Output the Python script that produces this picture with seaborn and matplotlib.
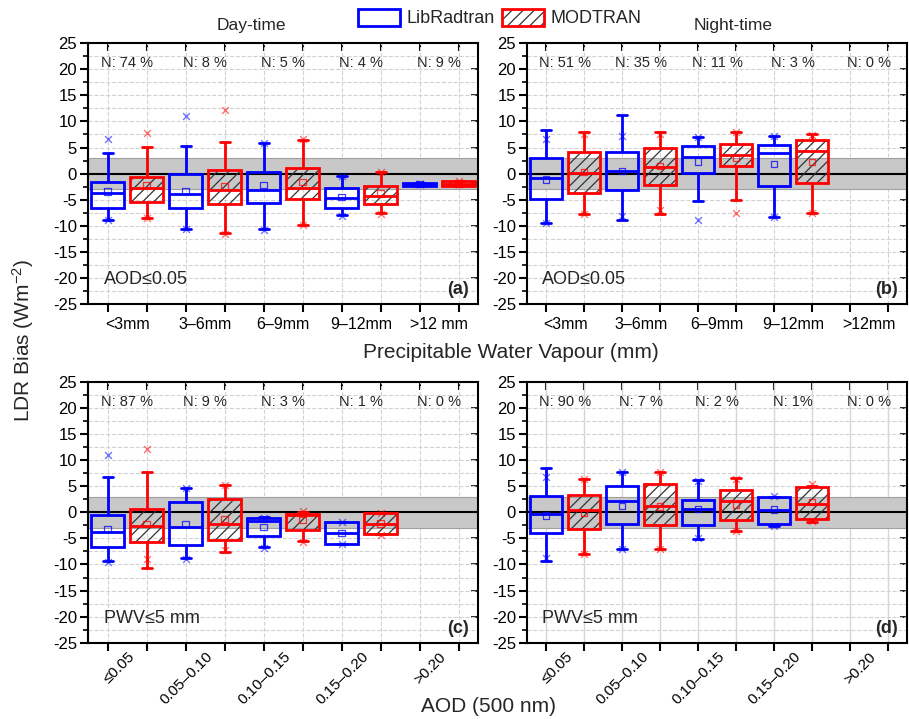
import matplotlib
matplotlib.use('Agg')
import matplotlib.pyplot as plt
import matplotlib.transforms as mtransforms
from matplotlib.patches import Patch, PathPatch
from matplotlib.legend_handler import HandlerTuple
from matplotlib.ticker import NullLocator
import numpy as np
import pandas as pd
import seaborn as sns

# class labels
pwv_day = ['<3mm', '3\u20136mm', '6\u20139mm', '9\u201312mm', '>12 mm']
pwv_night = ['<3mm', '3\u20136mm', '6\u20139mm', '9\u201312mm', '>12mm']
aod_cls = ['\u22640.05', '0.05\u20130.10', '0.10\u20130.15', '0.15\u20130.20', '>0.20']

n_a = ['N: 74 %', 'N: 8 %', 'N: 5 %', 'N: 4 %', 'N: 9 %']
n_b = ['N: 51 %', 'N: 35 %', 'N: 11 %', 'N: 3 %', 'N: 0 %']
n_c = ['N: 87 %', 'N: 9 %', 'N: 3 %', 'N: 1 %', 'N: 0 %']
n_d = ['N: 90 %', 'N: 7 %', 'N: 2 %', 'N: 1%', 'N: 0 %']

# box = [low whisker, q1, median, q3, high whisker], ext = [min, max]
lib_box_a = [[-8.8, -6.6, -3.8, -1.6, 4.0], [-10.6, -6.6, -3.9, 0.0, 5.2], [-10.7, -5.6, -3.2, 0.4, 5.8],
             [-8.0, -6.6, -4.7, -2.7, -0.4], [-2.4, -2.3, -2.0, -1.8, -1.7]]
lib_mean_a = [-3.4, -3.3, -2.2, -4.5, -2.0]
lib_ext_a = [[-8.9, 6.7], [-10.7, 11.0], [-10.8, 5.8], [-8.2, -0.4], [-2.0, -1.9]]
mod_box_a = [[-8.5, -5.5, -2.7, -0.7, 5.1], [-11.3, -5.9, -3.1, 0.7, 6.0], [-9.8, -4.9, -2.7, 1.1, 6.5],
             [-7.6, -5.9, -4.3, -2.3, 0.4], [-2.4, -2.3, -1.9, -1.5, -1.4]]
mod_mean_a = [-2.2, -2.5, -1.6, -3.8, -1.9]
mod_ext_a = [[-8.5, 7.8], [-11.5, 12.1], [-9.9, 6.6], [-7.7, 0.4], [-2.0, -1.5]]

lib_box_b = [[-9.4, -4.9, -0.8, 3.0, 8.4], [-8.9, -3.1, 0.5, 4.1, 11.3], [-5.2, 0.2, 3.1, 5.2, 7.0],
             [-8.4, -2.3, 4.0, 5.4, 7.2]]
lib_mean_b = [-1.1, 0.5, 2.3, 1.8]
lib_ext_b = [[-9.4, 6.7], [-8.2, 7.2], [-8.9, 7.0], [-8.3, 7.3]]
mod_box_b = [[-7.7, -3.7, 0.1, 4.1, 7.9], [-7.7, -2.1, 1.3, 5.0, 7.9], [-5.0, 1.4, 3.5, 5.6, 7.9],
             [-7.5, -1.7, 4.3, 6.4, 7.6]]
mod_mean_b = [0.3, 1.5, 3.0, 2.2]
mod_ext_b = [[-7.8, 7.5], [-6.9, 7.5], [-7.6, 8.0], [-7.6, 7.4]]

lib_box_c = [[-9.4, -6.6, -3.8, -0.6, 6.7], [-8.7, -6.2, -2.9, 2.0, 4.7], [-6.6, -4.5, -1.7, -1.1, -0.9],
             [-6.1, -6.1, -4.0, -1.9, -1.9]]
lib_mean_c = [-3.2, -2.2, -2.8, -4.0]
lib_ext_c = [[-9.5, 11.0], [-8.9, 4.6], [-6.9, -1.0], [-6.1, -1.9]]
mod_box_c = [[-10.6, -5.7, -2.7, 0.6, 7.8], [-7.6, -5.4, -2.2, 2.6, 5.2], [-5.5, -3.3, -0.5, -0.3, 0.1],
             [-4.2, -4.2, -2.2, -0.2, -0.2]]
mod_mean_c = [-2.2, -1.3, -1.5, -2.1]
mod_ext_c = [[-9.0, 12.2], [-7.3, 5.2], [-5.6, 0.2], [-4.3, -0.1]]

lib_box_d = [[-9.4, -4.0, -0.4, 3.1, 8.4], [-7.0, -2.2, 2.1, 5.0, 7.7], [-5.2, -2.5, 0.6, 2.4, 6.1],
             [-2.6, -2.3, 0.4, 3.0, 3.0]]
lib_mean_d = [-0.6, 1.2, 0.6, 0.5]
lib_ext_d = [[-8.8, 6.7], [-7.0, 7.7], [-5.0, 6.0], [-2.6, 3.1]]
mod_box_d = [[-8.0, -3.2, 0.5, 3.3, 6.4], [-7.1, -2.4, 1.2, 5.5, 7.7], [-3.6, -1.5, 2.1, 4.3, 6.5],
             [-1.8, -1.3, 1.6, 4.8, 5.1]]
mod_mean_d = [-0.1, 1.1, 1.4, 2.0]
mod_ext_d = [[-7.9, 6.4], [-7.1, 7.7], [-3.5, 6.4], [-1.6, 5.4]]

BLUE = '#0000ff'
RED = '#ff0000'

sns.set_theme(style='ticks')
plt.rcParams['font.family'] = ['Liberation Sans', 'DejaVu Sans']
plt.rcParams['mathtext.fontset'] = 'custom'
plt.rcParams['mathtext.rm'] = 'Liberation Sans'
plt.rcParams['mathtext.default'] = 'regular'
plt.rcParams['axes.unicode_minus'] = False
plt.rcParams['axes.edgecolor'] = 'black'
plt.rcParams['xtick.color'] = 'black'
plt.rcParams['ytick.color'] = 'black'
plt.rcParams['hatch.linewidth'] = 0.9


def box_frame(boxes, offset):
    rows = [(2 * i + offset, v) for i, b in enumerate(boxes) for v in b]
    return pd.DataFrame(rows, columns=['slot', 'bias'])


def draw_panel(ax, lib, mod, n_text, classes, cond, tag, rotate=False, solid_vgrid=False):
    slots = list(range(10))
    ax.axhspan(-3, 3, facecolor='#c8c8c8', edgecolor='#a0a0a0', lw=0.8, zorder=0.8)
    ax.axhline(0, color='black', lw=1.5, zorder=1)

    for (boxes, means, ext), color, offset, hatch in ((lib, BLUE, 0, None), (mod, RED, 1, '///')):
        n0 = len(ax.patches)
        sns.boxplot(data=box_frame(boxes, offset), x='slot', y='bias', order=slots,
                    whis=(0, 100), width=0.84, color=color, linecolor=color, linewidth=2,
                    boxprops={'facecolor': 'none'}, showfliers=False, capwidths=0.26, ax=ax)
        if hatch:
            for p in ax.patches[n0:]:
                ax.add_patch(PathPatch(p.get_path(), transform=p.get_transform(), facecolor='none',
                                       edgecolor='#333333', lw=0, hatch=hatch, zorder=1.5))
        xs = [2 * i + offset for i in range(len(means))]
        sns.scatterplot(x=xs, y=means, marker='s', s=22, facecolor='none', edgecolor=color,
                        linewidth=0.9, alpha=0.75, ax=ax, zorder=4)
        xe = [2 * i + offset for i in range(len(ext)) for _ in range(2)]
        ye = [v for e in ext for v in e]
        sns.scatterplot(x=xe, y=ye, marker='x', s=24, color=color, linewidth=1, alpha=0.55,
                        ax=ax, zorder=4)

    ax.set_xlim(-0.5, 9.5)
    ax.set_ylim(-25, 25)
    ax.set_xlabel('')
    ax.set_ylabel('')
    ax.set_yticks(range(-25, 30, 5))
    ax.set_yticks(np.arange(-25, 25, 2.5), minor=True)
    ax.set_xticks(slots, labels=[''] * 10)
    centers = [2 * i + 0.5 for i in range(5)]
    if rotate:
        ax.set_xticks(centers, labels=classes, minor=True, rotation=45, ha='right',
                      rotation_mode='anchor', fontsize=11)
        shift = mtransforms.ScaledTranslation(0.08, 0, ax.figure.dpi_scale_trans)
        for lbl in ax.get_xticklabels(minor=True):
            lbl.set_transform(lbl.get_transform() + shift)
        ax.tick_params(axis='x', which='minor', length=0, pad=5)
    else:
        ax.set_xticks(centers, labels=classes, minor=True, fontsize=11.5)
        ax.tick_params(axis='x', which='minor', length=0, pad=9)
    ax.tick_params(axis='x', which='major', length=6, width=1.5, direction='out')
    ax.tick_params(axis='y', which='major', length=6, width=1.5, direction='out', labelsize=12, pad=2)
    ax.tick_params(axis='y', which='minor', length=3.5, width=1.2, direction='out')

    ax.yaxis.grid(True, which='both', ls='--', color='#d2d2d2', lw=0.8)
    if solid_vgrid:
        ax.xaxis.grid(True, which='major', ls='-', color='#d6d6d6', lw=1)
    else:
        ax.xaxis.grid(True, which='major', ls='--', color='#d2d2d2', lw=0.8)
    ax.set_axisbelow(True)

    for sp in ax.spines.values():
        sp.set_visible(True)
        sp.set_linewidth(1.5)
        sp.set_zorder(5)

    top = ax.secondary_xaxis('top')
    top.set_xticks(slots, labels=[])
    top.xaxis.set_minor_locator(NullLocator())
    top.tick_params(direction='in', length=6, width=1.5)
    right = ax.secondary_yaxis('right')
    right.set_yticks(range(-25, 30, 5), labels=[])
    right.yaxis.set_minor_locator(NullLocator())
    right.tick_params(direction='in', length=5, width=1.2)
    for sec in (top, right):
        for sp in sec.spines.values():
            sp.set_visible(False)

    for c, t in zip(centers, n_text):
        ax.text(c, 21.1, t, ha='center', va='center', fontsize=10.5)
    ax.text(-0.1, -20.3, cond, ha='left', va='center', fontsize=13)
    ax.text(0.975, 0.055, tag, transform=ax.transAxes, ha='right', va='center',
            fontsize=13, fontweight='bold')


fig = plt.figure(figsize=(9.09, 7.19), dpi=100)
ax_a = fig.add_axes([0.097, 0.577, 0.429, 0.363])
ax_b = fig.add_axes([0.58, 0.577, 0.418, 0.363])
ax_c = fig.add_axes([0.097, 0.106, 0.429, 0.363])
ax_d = fig.add_axes([0.58, 0.106, 0.418, 0.363])

draw_panel(ax_a, (lib_box_a, lib_mean_a, lib_ext_a), (mod_box_a, mod_mean_a, mod_ext_a),
           n_a, pwv_day, 'AOD\u22640.05', '(a)')
draw_panel(ax_b, (lib_box_b, lib_mean_b, lib_ext_b), (mod_box_b, mod_mean_b, mod_ext_b),
           n_b, pwv_night, 'AOD\u22640.05', '(b)')
draw_panel(ax_c, (lib_box_c, lib_mean_c, lib_ext_c), (mod_box_c, mod_mean_c, mod_ext_c),
           n_c, aod_cls, 'PWV\u22645 mm', '(c)', rotate=True)
draw_panel(ax_d, (lib_box_d, lib_mean_d, lib_ext_d), (mod_box_d, mod_mean_d, mod_ext_d),
           n_d, aod_cls, 'PWV\u22645 mm', '(d)', rotate=True, solid_vgrid=True)

fig.text(0.562, 0.51, 'Precipitable Water Vapour (mm)', ha='center', va='center', fontsize=15)
fig.text(0.537, 0.018, 'AOD (500 nm)', ha='center', va='center', fontsize=15)
fig.text(0.025, 0.527, 'LDR Bias (Wm$^{-2}$)', ha='center', va='center', rotation=90, fontsize=15)
fig.text(0.277, 0.965, 'Day-time', ha='center', va='center', fontsize=12.5)
fig.text(0.806, 0.965, 'Night-time', ha='center', va='center', fontsize=12.5)

lib_patch = Patch(facecolor='none', edgecolor=BLUE, lw=2)
mod_hatch = Patch(facecolor='none', edgecolor='#333333', lw=0, hatch='///')
mod_edge = Patch(facecolor='none', edgecolor=RED, lw=2)
fig.legend([lib_patch, (mod_hatch, mod_edge)], ['LibRadtran', 'MODTRAN'],
           handler_map={tuple: HandlerTuple(ndivide=1)},
           loc='center', bbox_to_anchor=(0.55, 0.975), ncol=2, frameon=False, fontsize=13,
           handlelength=2.33, handleheight=1.1, handletextpad=0.35, columnspacing=0.4)

fig.savefig('out.png', dpi=100)
